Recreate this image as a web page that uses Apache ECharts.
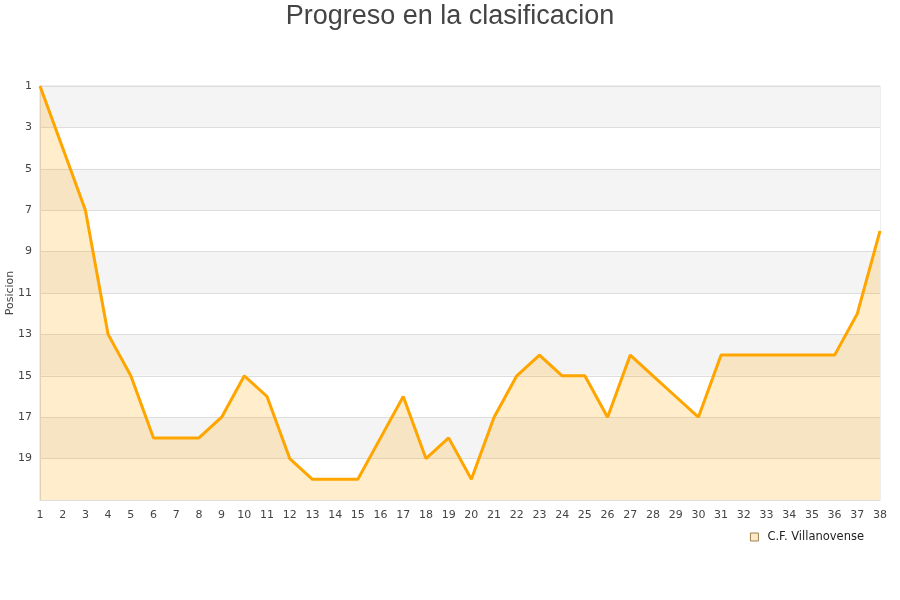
<!DOCTYPE html>
<html>
<head>
<meta charset="utf-8">
<script src="https://cdn.jsdelivr.net/npm/echarts@6/dist/echarts.min.js"></script>
<style>html,body{margin:0;padding:0;background:#fff}#c{width:900px;height:600px}</style>
</head>
<body>
<div id="c"></div>
<script>
var jornadas = [1,2,3,4,5,6,7,8,9,10,11,12,13,14,15,16,17,18,19,20,21,22,23,24,25,26,27,28,29,30,31,32,33,34,35,36,37,38];
var posiciones = [1,4,7,13,15,18,18,18,17,15,16,19,20,20,20,18,16,19,18,20,17,15,14,15,15,17,14,15,16,17,14,14,14,14,14,14,12,8];
var equipo = 'C.F. Villanovense';

var chart = echarts.init(document.getElementById('c'));
chart.setOption({
  animation: false,
  title: {
    text: 'Progreso en la clasificacion',
    left: 'center', top: -2,
    textStyle: {fontSize: 27, fontWeight: 'normal', color: '#444', fontFamily: 'Liberation Sans'}
  },
  grid: {left: 40, right: 20, top: 86, bottom: 100, show: true, borderColor: '#ddd', borderWidth: 1, outerBoundsMode: 'none', containLabel: false},
  legend: {
    right: 34, top: 529,
    icon: 'rect', itemWidth: 8, itemHeight: 8, itemGap: 10,
    backgroundColor: '#fff', padding: [2, 2, 2, 4],
    textStyle: {fontSize: 11.5, color: '#222', fontFamily: 'DejaVu Sans', padding: [0, 0, 0, 4]},
    data: [{name: equipo, itemStyle: {color: '#fde9c6', borderColor: '#a08050', borderWidth: 1}}]
  },
  xAxis: {
    type: 'category', data: jornadas, boundaryGap: false,
    axisLine: {show: true, lineStyle: {color: '#ddd'}},
    axisTick: {show: false},
    axisLabel: {interval: 0, fontSize: 11, color: '#444', margin: 10, fontFamily: 'DejaVu Sans'},
    splitLine: {show: false}
  },
  yAxis: {
    type: 'value', inverse: true, min: 1, max: 21, interval: 2,
    name: 'Posicion', nameLocation: 'middle', nameGap: 24, nameRotate: 90, nameMoveOverlap: false,
    nameTextStyle: {fontSize: 11, color: '#444', fontFamily: 'DejaVu Sans'},
    axisLine: {show: true, lineStyle: {color: '#ddd'}},
    axisTick: {show: false},
    axisLabel: {fontSize: 11, color: '#444', margin: 8, fontFamily: 'DejaVu Sans',
      formatter: function (v) { return v === 21 ? '' : v; }},
    splitLine: {show: true, lineStyle: {color: '#ddd'}},
    splitArea: {show: true, areaStyle: {color: ['#f4f4f4', '#ffffff']}}
  },
  series: [{
    name: equipo, type: 'line', data: posiciones,
    showSymbol: false, symbol: 'none',
    lineStyle: {color: '#ffa500', width: 3},
    itemStyle: {color: '#ffa500'},
    areaStyle: {color: 'rgba(255,165,0,0.2)', opacity: 1, origin: 'end'}
  }]
});
</script>
</body>
</html>
